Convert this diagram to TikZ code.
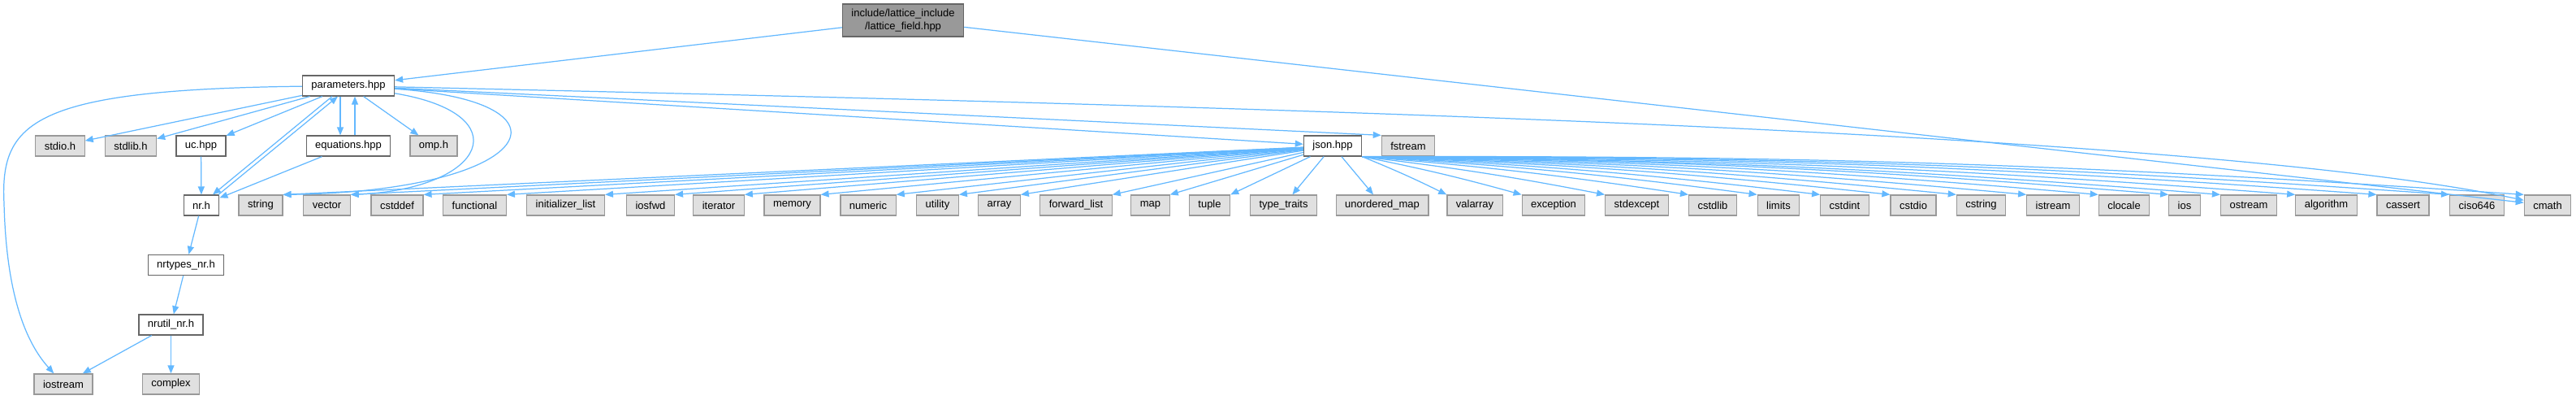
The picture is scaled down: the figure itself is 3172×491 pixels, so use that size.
\documentclass[tikz,border=0pt]{standalone}
\usepackage{fontspec}
\setmainfont{Liberation Sans}
\usetikzlibrary{arrows.meta}
\definecolor{edgeblue}{HTML}{63B8FF}
\definecolor{grey40}{HTML}{666666}
\definecolor{grey60}{HTML}{999999}
\definecolor{sysfill}{HTML}{E0E0E0}

\begin{document}
\begin{tikzpicture}[
  x=0.02cm, y=-0.02cm,
  every node/.style={font=\fontsize{7.4}{9}\selectfont, inner xsep=0.22cm, inner ysep=0pt, minimum height=0.5cm, line width=0.7pt},
  file/.style={draw=grey40, fill=white},
  sysfile/.style={draw=grey60, fill=sysfill},
  curfile/.style={draw=grey40, fill=grey60, minimum height=0.8cm, align=center},
  dep/.style={draw=edgeblue, line width=0.7pt, -{Triangle[length=0.2cm,width=0.16cm]}},
]

% Frame
\useasboundingbox (0,0) rectangle (3172,491);

% The file itself
\node[curfile] (lattice) at (1112,25) {include/lattice\_include\\/lattice\_field.hpp};
\node[file] (params) at (429,105.5) {parameters.hpp};

% First level of includes
\node[sysfile] (stdio) at (74,179.5) {stdio.h};
\node[sysfile] (stdlib) at (161,179.5) {stdlib.h};
\node[file] (uc) at (247.5,179.5) {uc.hpp};
\node[file] (equations) at (429,179.5) {equations.hpp};
\node[sysfile] (omp) at (534,179.5) {omp.h};
\node[file] (json) at (1641,179.5) {json.hpp};
\node[sysfile] (fstream) at (1734,179.5) {fstream};

% Standard headers row
\node[file] (nr) at (248,252.5) {nr.h};
\node[sysfile] (string) at (321,252.5) {string};
\node[sysfile] (vector) at (402.5,252.5) {vector};
\node[sysfile] (cstddef) at (489,252.5) {cstddef};
\node[sysfile] (functional) at (584.5,252.5) {functional};
\node[sysfile] (inilist) at (696.5,252.5) {initializer\_list};
\node[sysfile] (iosfwd) at (801,252.5) {iosfwd};
\node[sysfile] (iterator) at (885,252.5) {iterator};
\node[sysfile] (memory) at (975.5,252.5) {memory};
\node[sysfile] (numeric) at (1069,252.5) {numeric};
\node[sysfile] (utility) at (1154.5,252.5) {utility};
\node[sysfile] (array) at (1230.5,252.5) {array};
\node[sysfile] (fwdlist) at (1325,252.5) {forward\_list};
\node[sysfile] (map) at (1416.5,252.5) {map};
\node[sysfile] (tuple) at (1489.5,252.5) {tuple};
\node[sysfile] (typetraits) at (1580.5,252.5) {type\_traits};
\node[sysfile] (unorderedmap) at (1702,252.5) {unordered\_map};
\node[sysfile] (valarray) at (1816,252.5) {valarray};
\node[sysfile] (exception) at (1913,252.5) {exception};
\node[sysfile] (stdexcept) at (2015.5,252.5) {stdexcept};
\node[sysfile] (cstdlib) at (2109,252.5) {cstdlib};
\node[sysfile] (limits) at (2190,252.5) {limits};
\node[sysfile] (cstdint) at (2271.5,252.5) {cstdint};
\node[sysfile] (cstdio) at (2356,252.5) {cstdio};
\node[sysfile] (cstring) at (2439.5,252.5) {cstring};
\node[sysfile] (istream) at (2528,252.5) {istream};
\node[sysfile] (clocale) at (2615.5,252.5) {clocale};
\node[sysfile] (ios) at (2690,252.5) {ios};
\node[sysfile] (ostream) at (2769,252.5) {ostream};
\node[sysfile] (algorithm) at (2864.5,252.5) {algorithm};
\node[sysfile] (cassert) at (2959,252.5) {cassert};
\node[sysfile] (ciso646) at (3050,252.5) {ciso646};
\node[sysfile] (cmath) at (3137,252.5) {cmath};

% Numerical Recipes chain
\node[file] (nrtypes) at (229,326) {nrtypes\_nr.h};
\node[file] (nrutil) at (210.5,399.5) {nrutil\_nr.h};
\node[sysfile] (iostream) at (78,472.5) {iostream};
\node[sysfile] (complex) at (210.5,472.5) {complex};

% Edges of the file itself
\draw[dep] (lattice) -- (params);
\draw[dep] (lattice) -- (cmath);

% Edges of parameters.hpp
\draw[dep] (params) .. controls (40,110) and (0,150) .. (5,250) .. controls (8,380) and (40,430) .. (iostream);
\draw[dep] (params) -- (stdio);
\draw[dep] (params) -- (stdlib);
\draw[dep] (params) -- (uc);
\draw[dep] ([xshift=-0.4cm]params.south) -- ([xshift=0.28cm]nr.north);
\draw[dep] ([xshift=0.42cm]nr.north) -- ([xshift=-0.26cm]params.south);
\draw[dep] ([xshift=-0.2cm]params.south) -- ([xshift=-0.2cm]equations.north);
\draw[dep] ([xshift=0.16cm]equations.north) -- ([xshift=0.16cm]params.south);
\draw[dep] (params) -- (omp);
\draw[dep] (params) .. controls (720,125) and (660,235) .. (string.north east);
\draw[dep] (params) .. controls (640,140) and (600,232) .. (vector.north east);
\draw[dep] (params) -- (json);
\draw[dep] (params) -- (fstream.north west);
\draw[dep] (params) .. controls (1500,130) and (2700,160) .. (cmath);

% Local includes
\draw[dep] (uc) -- (nr);
\draw[dep] (equations) -- (nr);
\draw[dep] (nr) -- (nrtypes);
\draw[dep] (nrtypes) -- (nrutil);
\draw[dep] (nrutil) -- (iostream);
\draw[dep] (nrutil) -- (complex);

% Edges of json.hpp
\foreach \dst in {string,vector,cstddef,functional,inilist,iosfwd,iterator,memory,numeric,utility,array,fwdlist,map,tuple}
  \draw[dep] (json) -- (\dst.north east);
\foreach \dst in {typetraits,unorderedmap}
  \draw[dep] (json) -- (\dst);
\foreach \dst in {valarray,exception,stdexcept,cstdlib,limits,cstdint,cstdio,cstring,istream,clocale,ios,ostream,algorithm,cassert,ciso646,cmath}
  \draw[dep] (json.south east) to[bend left=2] (\dst.north west);

\end{tikzpicture}
\end{document}
